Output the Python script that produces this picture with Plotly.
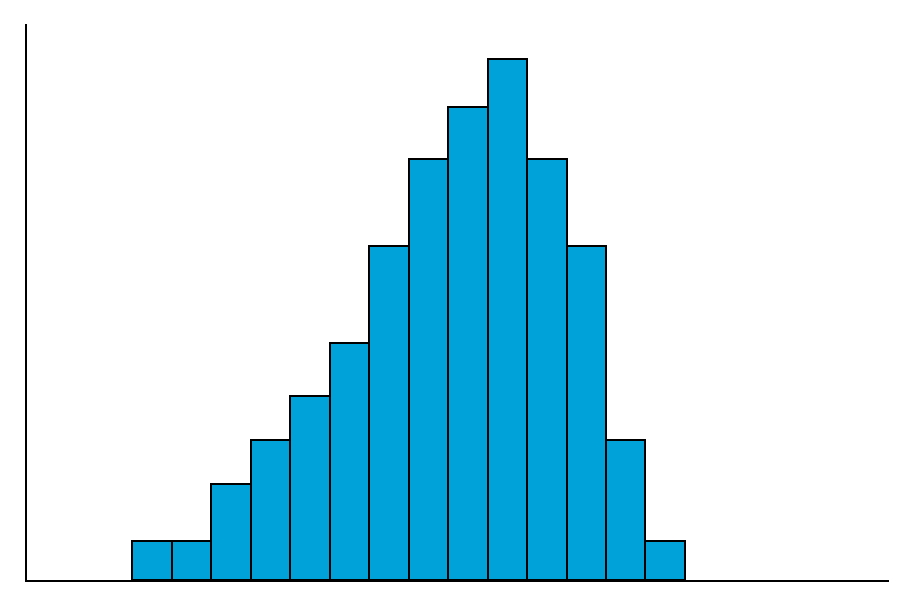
import plotly.graph_objects as go

bin_starts = list(range(14))
counts = [4, 4, 9.85, 14.4, 18.9, 24.3, 34.2, 43.2, 48.5, 53.4, 43.2, 34.2, 14.4, 4]

fig = go.Figure(go.Bar(
    x=[b + 0.5 for b in bin_starts],
    y=counts,
    width=1,
    marker=dict(color="#00A3D9", line=dict(color="black", width=2)),
))
fig.update_layout(
    width=898, height=590,
    margin=dict(l=19, r=17, t=16, b=18),
    plot_bgcolor="white", paper_bgcolor="white",
    showlegend=False,
    bargap=0,
)
fig.update_xaxes(range=[-2.67, 19.17], showline=True, linecolor="black", linewidth=2,
                 showgrid=False, zeroline=False, showticklabels=False, ticks="")
fig.update_yaxes(range=[0, 57.0], showline=True, linecolor="black", linewidth=2,
                 showgrid=False, zeroline=False, showticklabels=False, ticks="")
fig.write_html("out.html")
